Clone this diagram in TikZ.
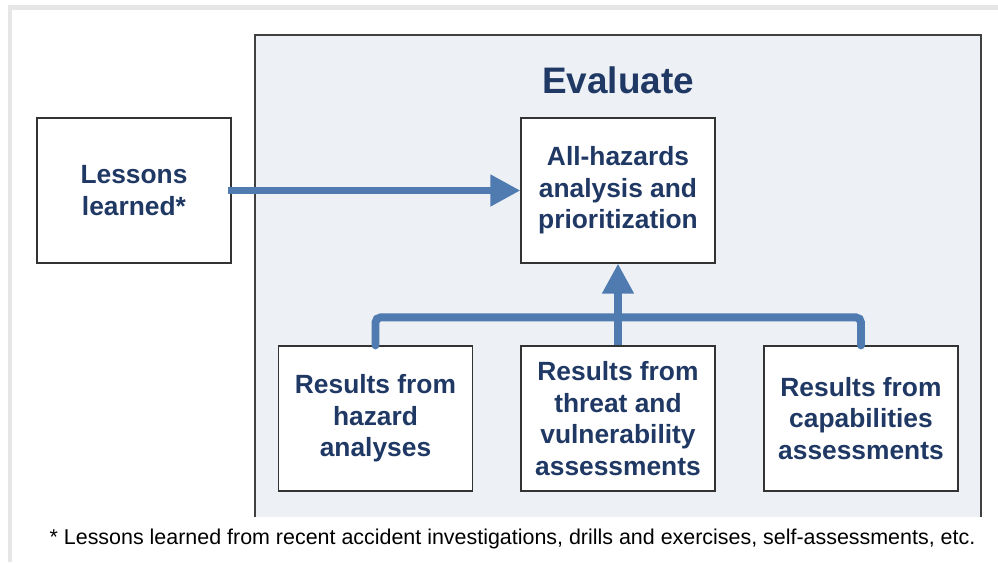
\documentclass[tikz,border=0pt]{standalone}
\usepackage{fontspec}
\setmainfont{Liberation Sans}
\usetikzlibrary{arrows.meta}

\definecolor{navy}{HTML}{1F3864}
\definecolor{flowblue}{HTML}{4F7BB0}
\definecolor{panelgrey}{HTML}{EDF0F5}
\definecolor{framegrey}{HTML}{E6E6E6}

\tikzset{
  box/.style={draw=black!80, line width=0.7pt, fill=white, minimum width=3.88cm,
    minimum height=2.9cm, inner sep=0pt, align=center, text=navy,
    font=\fontsize{15}{18}\selectfont\bfseries},
  flow/.style={draw=flowblue, line width=4.5pt},
  flowarrow/.style={flow, -{Triangle[length=0.6cm, width=0.6cm]}}
}

\begin{document}
\begin{tikzpicture}[x=0.02cm, y=-0.02cm]
  \useasboundingbox (0,0) rectangle (998,562);

  % outer frame
  \draw[framegrey, line width=2.3pt] (10,562) -- (10,7.5) -- (998,7.5);

  % evaluate panel
  \fill[panelgrey] (255,35) rectangle (981,517);
  \draw[black!75, line width=0.8pt] (255,517) -- (255,35) -- (981,35) -- (981,517);
  \node[text=navy, font=\fontsize{21}{24}\selectfont\bfseries] (title) at (618,80) {Evaluate};

  % boxes
  \node[box] (lessons) at (134,190.5) {Lessons\\learned*};
  \node[box] (analysis) at (618,190.5) {All-hazards\\analysis and\\prioritization};
  \node[box] (hazard) at (375.5,418.5) {Results from\\hazard\\analyses};
  \node[box] (threat) at (618,418.5) {Results from\\threat and\\vulnerability\\assessments};
  \node[box] (capab) at (861,418.5) {Results from\\capabilities\\assessments};

  % arrows
  \draw[flowarrow] ([xshift=-0.08cm]lessons.east) -- (analysis.west);
  \draw[flow, line cap=round, rounded corners=0.1cm] (hazard.north) -- ++(0,-28) -| (capab.north);
  \draw[flowarrow] (threat.north) -- (analysis.south);

  % footnote
  \node[font=\fontsize{12.2}{14}\selectfont] (note) at (512.5,539)
    {* Lessons learned from recent accident investigations, drills and exercises, self-assessments, etc.};
\end{tikzpicture}
\end{document}
